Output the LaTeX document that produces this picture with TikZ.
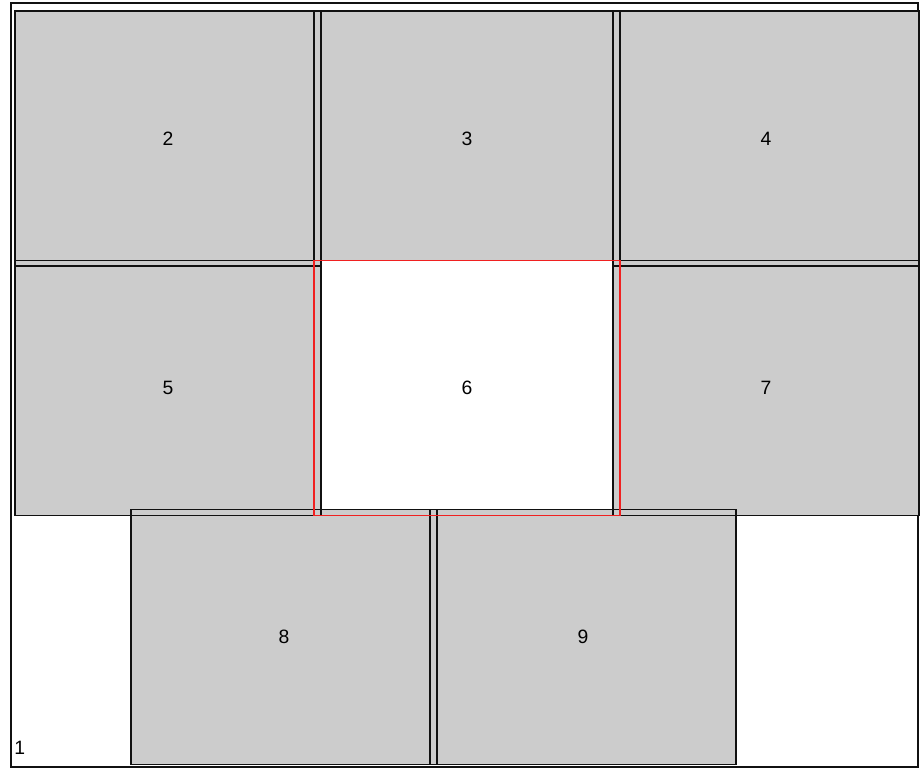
\documentclass[tikz,border=0pt]{standalone}
\usepackage{fontspec}
\setmainfont{Liberation Sans}
\usetikzlibrary{positioning,calc}
\definecolor{PanelGray}{HTML}{CCCCCC}
\definecolor{EdgeBlack}{HTML}{111111}
\definecolor{MarkRed}{HTML}{F02020}
\tikzset{
  every node/.style  = {font=\fontsize{14.5}{16}\selectfont, text=black},
  panel/.style       = {rectangle, draw=none, fill=PanelGray,
                        outer sep=0pt, inner sep=0pt,
                        minimum width=229.5pt, minimum height=191.25pt},
  panel_blank/.style = {panel, fill=white},
  frame/.style       = {rectangle, draw=EdgeBlack, fill=white,
                        line width=1.1pt, outer sep=0pt, inner sep=0pt,
                        minimum width=680.25pt, minimum height=573pt},
  edge/.style        = {draw=EdgeBlack, line width=1.1pt},
  highlight/.style   = {draw=MarkRed, line width=1.2pt},
}

\begin{document}
\begin{tikzpicture}[x=0.75pt, y=-0.75pt]
\useasboundingbox (0,0) rectangle (921,770);

% =========================================================================
% Outer frame
% =========================================================================
\node[frame] (b1) at (464.5, 385) {};
\node[anchor=base west, inner sep=0pt] (l1) at ($(b1.south west)+(3,-13)$) {1};

% =========================================================================
% Top row
% =========================================================================
\node[panel] (b2) at (168, 138.5) {2};
\node[panel] (b3) at (467, 138.5) {3};
\node[panel] (b4) at (766, 138.5) {4};
\draw[edge] (b3.north west) rectangle (b3.south east);

% =========================================================================
% Middle row (6 is the blank one, filled first)
% =========================================================================
\node[panel_blank] (b6) at (467, 388) {6};
\node[panel] (b5) at (168, 388) {5};
\node[panel] (b7) at (766, 388) {7};

% =========================================================================
% Bottom row
% =========================================================================
\node[panel] (b8) at (284, 637) {8};
\node[panel] (b9) at (583, 637) {9};

% --- outlines on top of all fills ------------------------------------------
\foreach \b in {b2,b4,b5,b7,b8,b9}
  \draw[edge] (\b.north west) rectangle (\b.south east);

% --- highlighted panel ----------------------------------------------------
\draw[highlight] (b6.north west) -- (b6.north east) -- (b6.south east)
  -- (b6.south west) -- cycle;

\end{tikzpicture}
\end{document}
